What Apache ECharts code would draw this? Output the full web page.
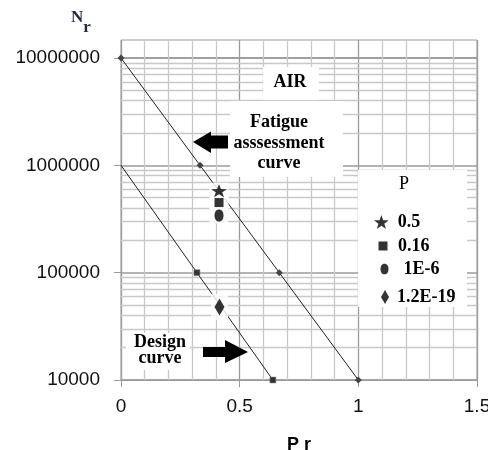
<!DOCTYPE html>
<html>
<head>
<meta charset="utf-8">
<script src="https://cdn.jsdelivr.net/npm/echarts@6/dist/echarts.min.js"></script>
<style>html,body{margin:0;padding:0;background:#fff;overflow:hidden}#c{width:488px;height:450px}</style>
</head>
<body>
<div id="c"></div>
<script>
// ---- data ----
const fatigueX = [0, 0.333, 0.667, 1];
const fatigueN = [10000000, 1000000, 100000, 10000];
const designX = [0, 0.32, 0.64];
const designN = [1000000, 100000, 10000];
const pLabels = ['0.5', '0.16', '1E-6', '1.2E-19'];
const pointX = [0.413, 0.413, 0.413, 0.415];
const pointN = [580000, 450000, 340000, 48000];
const yDecades = [10000, 100000, 1000000, 10000000];
const minorMult = [2, 3, 4, 5, 6, 7, 8, 9];

const STAR = 'path://M0,-10L2.35,-3.24L9.51,-3.09L3.8,1.24L5.88,8.09L0,4L-5.88,8.09L-3.8,1.24L-9.51,-3.09L-2.35,-3.24Z';
const ELLIPSE = 'path://M0,-8C4.14,-8,6,-4.42,6,0C6,4.42,4.14,8,0,8C-4.14,8,-6,4.42,-6,0C-6,-4.42,-4.14,-8,0,-8Z';
const symbols = [STAR, 'rect', ELLIPSE, 'diamond'];
const symbolSizes = [[16, 13], [9, 9], [9, 12], [10, 17]];
const legendIconSizes = [[15, 14], [9, 9], [8, 12], [8, 14]];
const legendPos = [[374, 213, 4], [378.5, 237, 5.5], [380.5, 260, 10], [381, 288, 3]];

const minorVals = [];
yDecades.slice(0, 3).forEach(d => minorMult.forEach(m => minorVals.push(d * m)));

const gridColor = '#9a9a9a';
const minorColor = '#c8c8c8';
const serif = "'Liberation Serif','Times New Roman',serif";
const sans = "'Liberation Sans',Arial,sans-serif";

const chart = echarts.init(document.getElementById('c'), null, {renderer: 'canvas', width: 488, height: 450});

const series = [
  {
    type: 'line', xAxisIndex: 0, yAxisIndex: 0, z: 1, data: [],
    markLine: {
      silent: true, symbol: 'none', label: {show: false}, animation: false, z: 1,
      lineStyle: {color: minorColor, width: 1.3, type: 'solid'},
      data: minorVals.map(v => ({yAxis: v}))
    }
  },
  {
    name: 'fatigue', type: 'line', z: 2,
    data: fatigueX.map((x, i) => [x, fatigueN[i]]),
    symbol: 'diamond', symbolSize: 7, showSymbol: true,
    lineStyle: {color: '#222', width: 1},
    itemStyle: {color: '#444'}
  },
  {
    name: 'design', type: 'line', z: 2,
    data: designX.map((x, i) => i === 0 ? {value: [x, designN[i]], symbolSize: 0} : [x, designN[i]]),
    symbol: 'rect', symbolSize: 6, showSymbol: true,
    lineStyle: {color: '#222', width: 1},
    itemStyle: {color: '#333', borderColor: '#888', borderWidth: 0.5}
  },
  {
    name: 'bg', type: 'scatter', z: 3, silent: true,
    data: pointX.map((x, i) => ({value: [x, pointN[i]], symbolSize: i < 3 ? [19, 16] : [17, 26]})),
    symbol: 'rect',
    itemStyle: {color: '#fff'}
  }
];
pLabels.forEach((name, i) => {
  series.push({
    name: name, type: 'scatter', z: 4,
    data: [[pointX[i], pointN[i]]],
    symbol: symbols[i], symbolSize: symbolSizes[i], symbolKeepAspect: false,
    itemStyle: {color: '#000'}
  });
});

const legends = pLabels.map((name, i) => ({
  data: [{name: name, icon: symbols[i]}],
  left: legendPos[i][0], top: legendPos[i][1], padding: 0,
  itemWidth: legendIconSizes[i][0], itemHeight: legendIconSizes[i][1],
  selectedMode: false, z: 10,
  textStyle: {fontFamily: serif, fontWeight: 'bold', fontSize: 18, color: '#000',
    padding: [0, 0, 0, legendPos[i][2]]}
}));

const option = {
  animation: false,
  backgroundColor: '#fff',
  grid: [
    {left: 121, right: 11, top: 58, bottom: 70, show: true, borderColor: gridColor, borderWidth: 1,
      containLabel: false, outerBoundsMode: 'none'},
    {left: 121, right: 11, top: 40, height: 18, show: true, borderColor: gridColor, borderWidth: 1,
      containLabel: false, outerBoundsMode: 'none'}
  ],
  xAxis: [
    {
      type: 'value', gridIndex: 0, min: 0, max: 1.5, interval: 0.5,
      name: 'P r', nameLocation: 'middle', nameGap: 56,
      nameTextStyle: {fontFamily: sans, fontWeight: 'bold', fontSize: 18, color: '#000'},
      axisLine: {show: true, lineStyle: {color: gridColor}},
      axisTick: {show: true, length: 7, lineStyle: {color: gridColor}},
      axisLabel: {margin: 17, fontFamily: sans, fontSize: 19, color: '#111'},
      splitLine: {show: true, lineStyle: {color: gridColor, width: 1.3}},
      minorTick: {show: false, splitNumber: 5},
      minorSplitLine: {show: true, lineStyle: {color: minorColor, width: 1.3}}
    },
    {
      type: 'value', gridIndex: 1, min: 0, max: 1.5, interval: 0.5,
      axisLine: {show: false}, axisTick: {show: false}, axisLabel: {show: false},
      splitLine: {show: true, lineStyle: {color: gridColor, width: 1.3}},
      minorTick: {show: false, splitNumber: 5},
      minorSplitLine: {show: true, lineStyle: {color: minorColor, width: 1.3}}
    }
  ],
  yAxis: [
    {
      type: 'log', gridIndex: 0, min: 10000, max: 10000000, logBase: 10,
      axisLine: {show: true, lineStyle: {color: gridColor}},
      axisTick: {show: true, length: 7, lineStyle: {color: gridColor}},
      axisLabel: {margin: 21, fontFamily: sans, fontSize: 19, color: '#111',
        formatter: v => String(Math.round(v))},
      splitLine: {show: true, lineStyle: {color: gridColor, width: 1.6}}
    },
    {
      type: 'value', gridIndex: 1, min: 0, max: 1, show: false,
      splitLine: {show: false}
    }
  ],
  legend: legends,
  series: series,
  graphic: [
    {type: 'text', left: 71, top: 9, z: 20,
      style: {text: '{n|N}{r|r}', fontFamily: serif, fill: '#1f2a44',
        rich: {n: {fontSize: 17, fontWeight: 'bold', fontFamily: serif, fill: '#1f2a44', verticalAlign: 'top'},
               r: {fontSize: 17, fontWeight: 'bold', fontFamily: serif, fill: '#1f2a44', padding: [10, 0, 0, 0]}}}},
    // AIR box
    {type: 'rect', shape: {x: 263, y: 67, width: 56, height: 33}, style: {fill: '#fff'}, z: 20},
    {type: 'text', x: 290, y: 82, z: 21,
      style: {text: 'AIR', fontFamily: serif, fontWeight: 'bold', fontSize: 18, fill: '#000', align: 'center', verticalAlign: 'middle'}},
    // fatigue box
    {type: 'rect', shape: {x: 230, y: 101, width: 113, height: 76}, style: {fill: '#fff'}, z: 20},
    {type: 'text', x: 279, y: 143, z: 21,
      style: {text: 'Fatigue\nasssessment\ncurve', fontFamily: serif, fontWeight: 'bold', fontSize: 18, lineHeight: 20.5,
        fill: '#000', align: 'center', verticalAlign: 'middle'}},
    {type: 'polygon', z: 21, shape: {points: [[193, 142], [211, 131.5], [211, 135.5], [228, 135.5], [228, 148.5], [211, 148.5], [211, 153]]},
      style: {fill: '#000'}},
    // design box
    {type: 'rect', shape: {x: 126, y: 333, width: 64, height: 37}, style: {fill: '#fff'}, z: 20},
    {type: 'text', x: 160, y: 350, z: 21,
      style: {text: 'Design\ncurve', fontFamily: serif, fontWeight: 'bold', fontSize: 18, lineHeight: 16,
        fill: '#000', align: 'center', verticalAlign: 'middle'}},
    {type: 'polygon', z: 21, shape: {points: [[203, 347], [225, 347], [225, 340], [248, 352], [225, 363], [225, 357], [203, 357]]},
      style: {fill: '#000'}},
    // legend box
    {type: 'rect', shape: {x: 358, y: 170, width: 109, height: 137}, style: {fill: '#fff'}, z: 8},
    {type: 'text', x: 404, y: 184, z: 9,
      style: {text: 'P', fontFamily: serif, fontSize: 18, fill: '#000', align: 'center', verticalAlign: 'middle'}}
  ]
};
chart.setOption(option);
</script>
</body>
</html>
